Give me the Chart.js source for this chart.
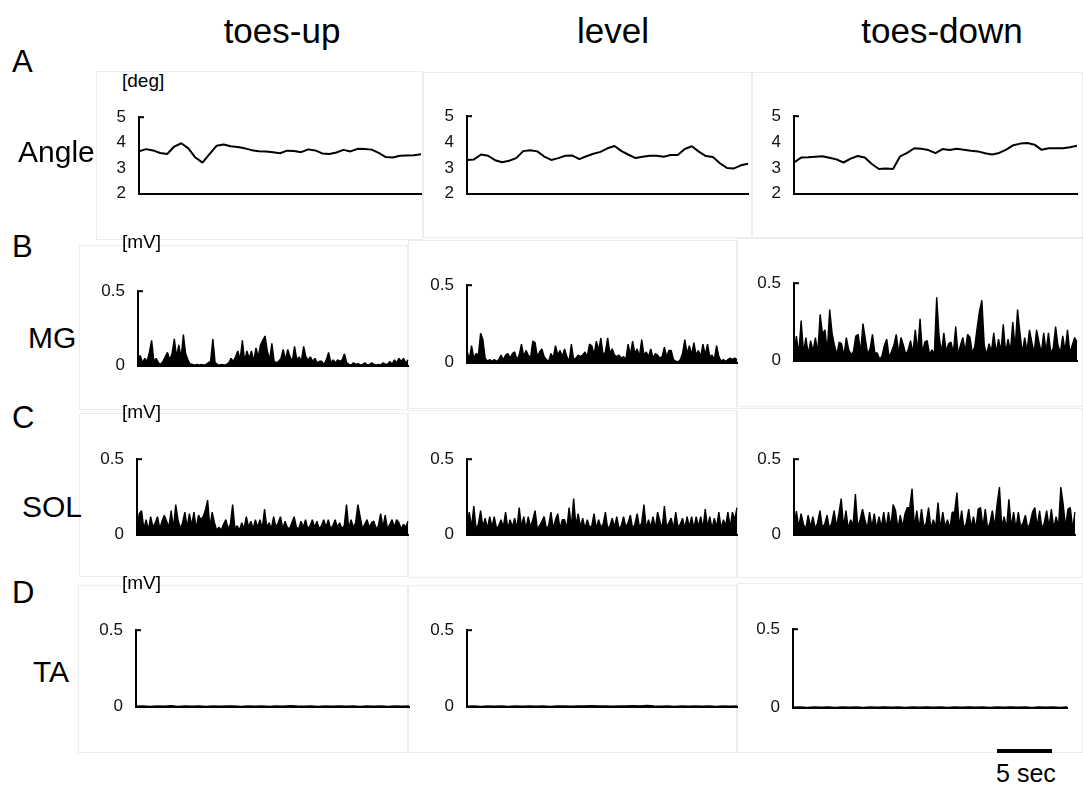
<!DOCTYPE html>
<html>
<head>
<meta charset="utf-8">
<script src="https://cdn.jsdelivr.net/npm/chart.js@4.4.1/dist/chart.umd.min.js"></script>
<style>
  body { margin: 0; background: #fff; font-family: "Liberation Sans", Arial, sans-serif; }
  #fig { position: relative; width: 1083px; height: 788px; overflow: hidden; background: #fff; }
  .box { position: absolute; border: 1px solid #ededed; box-sizing: border-box; }
  .lbl { position: absolute; white-space: nowrap; color: #000; line-height: 1; }
  .plot { position: absolute; }
  .bar { position: absolute; background: #000; }
</style>
</head>
<body>
<div id="fig"></div>
<script>
// categories
const conditions = ["toes-up", "level", "toes-down"];
const signals = ["Angle", "MG", "SOL", "TA"];
const rowLetters = ["A", "B", "C", "D"];
const units = ["[deg]", "[mV]", "[mV]", "[mV]"];

// tick labels
const angleTicks = [2, 3, 4, 5];
const emgTicks = [0, 0.5];

// ankle angle [deg], evenly sampled over the trial
const angleToesUp = [3.66, 3.75, 3.70, 3.60, 3.56, 3.85, 3.98, 3.78, 3.42, 3.22, 3.55, 3.88, 3.93, 3.86, 3.83, 3.78, 3.71, 3.67, 3.66, 3.63,
  3.59, 3.69, 3.68, 3.63, 3.74, 3.70, 3.58, 3.56, 3.62, 3.72, 3.66, 3.76, 3.75, 3.73, 3.60, 3.44, 3.42, 3.49, 3.50, 3.51, 3.55];
const angleLevel = [3.31, 3.33, 3.52, 3.47, 3.30, 3.22, 3.28, 3.38, 3.65, 3.68, 3.64, 3.44, 3.31, 3.38, 3.47, 3.48, 3.34, 3.45, 3.55, 3.62,
  3.76, 3.85, 3.65, 3.51, 3.38, 3.43, 3.47, 3.47, 3.43, 3.50, 3.50, 3.73, 3.84, 3.63, 3.46, 3.42, 3.18, 3.00, 2.98, 3.10, 3.16];
const angleToesDown = [3.21, 3.40, 3.41, 3.43, 3.45, 3.39, 3.33, 3.21, 3.36, 3.46, 3.40, 3.15, 2.96, 2.98, 2.96, 3.45, 3.58, 3.76, 3.74, 3.69,
  3.57, 3.73, 3.69, 3.74, 3.70, 3.66, 3.64, 3.57, 3.52, 3.58, 3.71, 3.88, 3.94, 3.96, 3.90, 3.70, 3.76, 3.76, 3.76, 3.80, 3.86];

// rectified EMG [mV]
const mgToesUp = [0.03, 0.07, 0.02, 0.05, 0.03, 0.09, 0.17, 0.03, 0.05, 0.02,
  0.01, 0.03, 0.06, 0.09, 0.04, 0.08, 0.18, 0.06, 0.14, 0.05,
  0.21, 0.08, 0.04, 0.01, 0.01, 0.005, 0.01, 0.005, 0.01, 0.005,
  0.01, 0.02, 0.03, 0.18, 0.02, 0.01, 0.005, 0.01, 0.005, 0.01,
  0.02, 0.05, 0.03, 0.06, 0.10, 0.04, 0.17, 0.03, 0.10, 0.05,
  0.10, 0.03, 0.12, 0.06, 0.14, 0.17, 0.20, 0.10, 0.04, 0.15,
  0.03, 0.02, 0.03, 0.05, 0.11, 0.04, 0.11, 0.06, 0.03, 0.13,
  0.04, 0.06, 0.03, 0.13, 0.06, 0.04, 0.06, 0.03, 0.05, 0.02,
  0.03, 0.03, 0.01, 0.04, 0.09, 0.02, 0.04, 0.02, 0.04, 0.03,
  0.04, 0.08, 0.02, 0.01, 0.005, 0.02, 0.01, 0.015, 0.005, 0.01,
  0.02, 0.005, 0.01, 0.02, 0.01, 0.005, 0.01, 0.005, 0.02, 0.01,
  0.01, 0.03, 0.01, 0.04, 0.02, 0.05, 0.03, 0.05, 0.02, 0.04];
const mgLevel = [0.08, 0.02, 0.11, 0.03, 0.06, 0.05, 0.19, 0.15, 0.03, 0.01,
  0.02, 0.01, 0.02, 0.01, 0.02, 0.05, 0.02, 0.05, 0.06, 0.03,
  0.06, 0.07, 0.02, 0.05, 0.12, 0.04, 0.08, 0.05, 0.03, 0.14,
  0.13, 0.04, 0.07, 0.09, 0.04, 0.02, 0.01, 0.06, 0.03, 0.11,
  0.05, 0.08, 0.04, 0.09, 0.04, 0.01, 0.12, 0.02, 0.03, 0.05,
  0.04, 0.05, 0.07, 0.04, 0.12, 0.11, 0.05, 0.14, 0.08, 0.16,
  0.05, 0.07, 0.16, 0.06, 0.09, 0.05, 0.04, 0.05, 0.03, 0.04,
  0.02, 0.12, 0.05, 0.14, 0.06, 0.09, 0.04, 0.15, 0.05, 0.07,
  0.04, 0.09, 0.03, 0.06, 0.05, 0.03, 0.04, 0.10, 0.04, 0.08,
  0.08, 0.02, 0.01, 0.005, 0.02, 0.06, 0.15, 0.06, 0.11, 0.05,
  0.13, 0.05, 0.08, 0.04, 0.12, 0.05, 0.12, 0.04, 0.05, 0.02,
  0.11, 0.04, 0.01, 0.02, 0.01, 0.02, 0.03, 0.02, 0.03, 0.02];
const mgToesDown = [0.03, 0.16, 0.04, 0.26, 0.05, 0.15, 0.04, 0.13, 0.06, 0.15,
  0.05, 0.30, 0.17, 0.20, 0.06, 0.33, 0.18, 0.10, 0.04, 0.12,
  0.11, 0.03, 0.15, 0.07, 0.04, 0.06, 0.16, 0.17, 0.05, 0.24,
  0.14, 0.04, 0.08, 0.17, 0.05, 0.05, 0.01, 0.03, 0.10, 0.14,
  0.02, 0.06, 0.10, 0.17, 0.05, 0.15, 0.10, 0.04, 0.07, 0.13,
  0.05, 0.20, 0.06, 0.27, 0.05, 0.12, 0.13, 0.04, 0.07, 0.04,
  0.41, 0.16, 0.05, 0.18, 0.06, 0.11, 0.12, 0.05, 0.22, 0.04,
  0.10, 0.15, 0.06, 0.17, 0.15, 0.05, 0.09, 0.21, 0.32, 0.39,
  0.10, 0.04, 0.11, 0.06, 0.18, 0.05, 0.14, 0.06, 0.235, 0.05,
  0.14, 0.06, 0.25, 0.08, 0.33, 0.18, 0.05, 0.15, 0.06, 0.20,
  0.12, 0.05, 0.20, 0.12, 0.05, 0.18, 0.06, 0.18, 0.05, 0.08,
  0.22, 0.10, 0.05, 0.16, 0.06, 0.20, 0.05, 0.10, 0.15, 0.12];
const solToesUp = [0.03, 0.14, 0.16, 0.04, 0.10, 0.03, 0.12, 0.05, 0.08, 0.12,
  0.04, 0.09, 0.13, 0.09, 0.05, 0.16, 0.04, 0.20, 0.10, 0.04,
  0.08, 0.15, 0.05, 0.14, 0.06, 0.15, 0.04, 0.13, 0.10, 0.12,
  0.16, 0.23, 0.05, 0.15, 0.08, 0.03, 0.05, 0.03, 0.07, 0.10,
  0.04, 0.07, 0.20, 0.04, 0.06, 0.03, 0.08, 0.04, 0.12, 0.05,
  0.09, 0.04, 0.10, 0.05, 0.10, 0.04, 0.17, 0.05, 0.08, 0.04,
  0.12, 0.05, 0.08, 0.12, 0.04, 0.09, 0.05, 0.04, 0.08, 0.12,
  0.05, 0.04, 0.09, 0.05, 0.10, 0.04, 0.06, 0.10, 0.05, 0.09,
  0.04, 0.06, 0.10, 0.05, 0.10, 0.04, 0.06, 0.10, 0.05, 0.08,
  0.04, 0.06, 0.20, 0.04, 0.10, 0.05, 0.08, 0.20, 0.12, 0.04,
  0.07, 0.10, 0.05, 0.08, 0.09, 0.04, 0.06, 0.14, 0.05, 0.13,
  0.04, 0.07, 0.10, 0.05, 0.10, 0.08, 0.04, 0.07, 0.05, 0.09];
const solLevel = [0.04, 0.15, 0.05, 0.19, 0.04, 0.07, 0.16, 0.05, 0.11, 0.04,
  0.12, 0.05, 0.12, 0.04, 0.06, 0.10, 0.05, 0.15, 0.04, 0.10,
  0.05, 0.11, 0.04, 0.18, 0.05, 0.12, 0.04, 0.12, 0.05, 0.10,
  0.16, 0.04, 0.06, 0.09, 0.12, 0.04, 0.06, 0.15, 0.04, 0.10,
  0.14, 0.04, 0.10, 0.10, 0.04, 0.18, 0.05, 0.24, 0.06, 0.14,
  0.05, 0.11, 0.04, 0.10, 0.05, 0.06, 0.14, 0.04, 0.10, 0.05,
  0.07, 0.15, 0.04, 0.06, 0.11, 0.05, 0.12, 0.04, 0.06, 0.12,
  0.05, 0.08, 0.13, 0.04, 0.07, 0.14, 0.05, 0.08, 0.20, 0.04,
  0.10, 0.05, 0.12, 0.04, 0.15, 0.09, 0.04, 0.19, 0.05, 0.08,
  0.11, 0.04, 0.15, 0.05, 0.07, 0.11, 0.04, 0.12, 0.05, 0.12,
  0.04, 0.12, 0.05, 0.12, 0.04, 0.17, 0.05, 0.12, 0.04, 0.11,
  0.05, 0.15, 0.04, 0.10, 0.06, 0.15, 0.05, 0.15, 0.10, 0.18];
const solToesDown = [0.04, 0.157, 0.05, 0.14, 0.07, 0.04, 0.13, 0.05, 0.12, 0.04,
  0.08, 0.16, 0.05, 0.07, 0.13, 0.04, 0.08, 0.16, 0.05, 0.14,
  0.24, 0.05, 0.16, 0.04, 0.10, 0.06, 0.27, 0.05, 0.10, 0.17,
  0.10, 0.04, 0.15, 0.05, 0.14, 0.04, 0.12, 0.05, 0.15, 0.04,
  0.15, 0.05, 0.20, 0.16, 0.04, 0.13, 0.05, 0.14, 0.18, 0.18,
  0.305, 0.05, 0.16, 0.04, 0.17, 0.05, 0.08, 0.18, 0.04, 0.10,
  0.05, 0.214, 0.04, 0.15, 0.05, 0.10, 0.04, 0.15, 0.15, 0.28,
  0.05, 0.16, 0.04, 0.08, 0.17, 0.05, 0.12, 0.04, 0.17, 0.18,
  0.05, 0.17, 0.04, 0.08, 0.16, 0.05, 0.20, 0.316, 0.05, 0.12,
  0.04, 0.235, 0.05, 0.15, 0.04, 0.15, 0.05, 0.08, 0.13, 0.04,
  0.08, 0.15, 0.18, 0.05, 0.16, 0.04, 0.08, 0.16, 0.05, 0.17,
  0.04, 0.12, 0.05, 0.316, 0.20, 0.05, 0.17, 0.18, 0.04, 0.15];
const taToesUp = [0.004, 0.006, 0.003, 0.005, 0.004, 0.007, 0.003, 0.005, 0.004, 0.006,
  0.003, 0.005, 0.004, 0.006, 0.005, 0.003, 0.006, 0.004, 0.005, 0.003,
  0.006, 0.004, 0.007, 0.005, 0.004, 0.006, 0.003, 0.005, 0.004, 0.006,
  0.004, 0.005, 0.003, 0.006, 0.004, 0.005, 0.003, 0.006, 0.004, 0.005];
const taLevel = [0.004, 0.005, 0.003, 0.006, 0.004, 0.005, 0.003, 0.005, 0.004, 0.006,
  0.004, 0.005, 0.003, 0.006, 0.005, 0.004, 0.006, 0.005, 0.007, 0.005,
  0.006, 0.004, 0.006, 0.005, 0.007, 0.006, 0.009, 0.005, 0.004, 0.006,
  0.003, 0.005, 0.004, 0.006, 0.004, 0.005, 0.003, 0.005, 0.004, 0.005];
const taToesDown = [0.004, 0.005, 0.003, 0.005, 0.004, 0.006, 0.003, 0.005, 0.004, 0.005,
  0.003, 0.005, 0.004, 0.006, 0.004, 0.005, 0.003, 0.005, 0.004, 0.006,
  0.004, 0.005, 0.003, 0.005, 0.004, 0.006, 0.004, 0.005, 0.003, 0.005,
  0.004, 0.006, 0.004, 0.005, 0.003, 0.005, 0.004, 0.005, 0.003, 0.006];

const traces = [
  [angleToesUp, angleLevel, angleToesDown],
  [mgToesUp, mgLevel, mgToesDown],
  [solToesUp, solLevel, solToesDown],
  [taToesUp, taLevel, taToesDown]
];

// panel geometry (page px): y-axis x, trace end x, top (max value) y, bottom (min value) y
const axisX = [[139, 467, 794], [138, 467, 794], [137, 467, 794], [136, 467, 793]];
const endX = [[421, 748, 1077], [408, 737, 1077], [408, 737, 1075], [409, 737, 1067]];
const topY = [[104, 103, 103], [278, 272, 270], [446, 446, 446], [617, 617, 616]];
const botY = [[207, 207, 207], [379, 376, 374], [548, 548, 548], [720, 720, 721]];
const boxes = [
  [[96, 71, 327, 169], [423, 72, 329, 166], [752, 72, 331, 166]],
  [[79, 245, 329, 165], [408, 240, 329, 169], [737, 238, 346, 169]],
  [[79, 413, 329, 164], [408, 410, 329, 168], [737, 408, 346, 170]],
  [[78, 585, 330, 168], [408, 585, 329, 168], [737, 583, 346, 170]]
];

const fig = document.getElementById("fig");

function label(text, x, baseline, size, align) {
  const d = document.createElement("div");
  d.className = "lbl";
  d.textContent = text;
  d.style.fontSize = size + "px";
  d.style.left = x + "px";
  d.style.top = (baseline - 0.85 * size) + "px";
  if (align === "center") d.style.transform = "translateX(-50%)";
  fig.appendChild(d);
}

// faint panel frames
boxes.forEach(row => row.forEach(b => {
  const d = document.createElement("div");
  d.className = "box";
  d.style.left = b[0] + "px"; d.style.top = b[1] + "px";
  d.style.width = b[2] + "px"; d.style.height = b[3] + "px";
  fig.appendChild(d);
}));

// small cap at the top of each y axis
const capPlugin = {
  id: "cap",
  afterDraw(chart) {
    const a = chart.chartArea, c = chart.ctx;
    c.save();
    c.strokeStyle = "#000";
    c.lineWidth = 2;
    c.beginPath();
    c.moveTo(a.left - 1, a.top);
    c.lineTo(a.left + 5, a.top);
    c.stroke();
    c.restore();
  }
};

const PADL = 50, PADT = 10, PADR = 6, PADB = 10;

function makePanel(r, c) {
  const data = traces[r][c];
  const isAngle = r === 0;
  const ticks = isAngle ? angleTicks : emgTicks;
  const ax = axisX[r][c], ex = endX[r][c], ty = topY[r][c], by = botY[r][c];

  const holder = document.createElement("div");
  holder.className = "plot";
  holder.style.left = (ax - PADL) + "px";
  holder.style.top = (ty - PADT) + "px";
  holder.style.width = (ex - ax + PADL + PADR) + "px";
  holder.style.height = (by - ty + PADT + PADB) + "px";
  const cv = document.createElement("canvas");
  holder.appendChild(cv);
  fig.appendChild(holder);

  new Chart(cv, {
    type: "line",
    data: {
      labels: data.map((_, i) => i),
      datasets: [{
        data: data,
        borderColor: "#000",
        backgroundColor: "#000",
        borderWidth: isAngle ? 2 : 1.4,
        borderJoinStyle: "bevel",
        pointRadius: 0,
        tension: 0,
        fill: isAngle ? false : "origin"
      }]
    },
    options: {
      responsive: true,
      maintainAspectRatio: false,
      animation: false,
      events: [],
      layout: { padding: { left: 0, top: PADT, right: PADR, bottom: 0 } },
      plugins: { legend: { display: false }, tooltip: { enabled: false } },
      scales: {
        x: {
          type: "category",
          grid: { display: false, drawTicks: false },
          border: { display: true, color: "#000", width: 2 },
          ticks: { display: false },
          afterFit: s => { s.height = PADB; }
        },
        y: {
          min: ticks[0],
          max: ticks[ticks.length - 1],
          grid: { display: false, drawTicks: false },
          border: { display: true, color: "#000", width: 2 },
          ticks: {
            color: "#111",
            padding: 13,
            font: { family: "Liberation Sans", size: 17 },
            callback: v => String(v)
          },
          afterBuildTicks: s => { s.ticks = ticks.map(v => ({ value: v })); },
          afterFit: s => { s.width = PADL; }
        }
      }
    },
    plugins: [capPlugin]
  });
}

for (let r = 0; r < 4; r++) {
  for (let c = 0; c < 3; c++) makePanel(r, c);
}

// column titles
const titleX = [282, 613, 942];
conditions.forEach((t, i) => label(t, titleX[i], 43, 35, "center"));

// row letters, signal names, units
const letterBase = [72, 257, 428, 603];
rowLetters.forEach((t, i) => label(t, 12, letterBase[i], 31));
const nameX = [18, 28, 22, 33];
const nameBase = [162, 348, 517, 682];
signals.forEach((t, i) => label(t, nameX[i], nameBase[i], 30));
const unitBase = [87, 248, 418, 589];
units.forEach((t, i) => label(t, 122, unitBase[i], 19));

// 5 s scale bar
const bar = document.createElement("div");
bar.className = "bar";
bar.style.left = "997px"; bar.style.top = "749px";
bar.style.width = "55px"; bar.style.height = "4px";
fig.appendChild(bar);
label("5 sec", 1026, 782, 25, "center");
</script>
</body>
</html>
